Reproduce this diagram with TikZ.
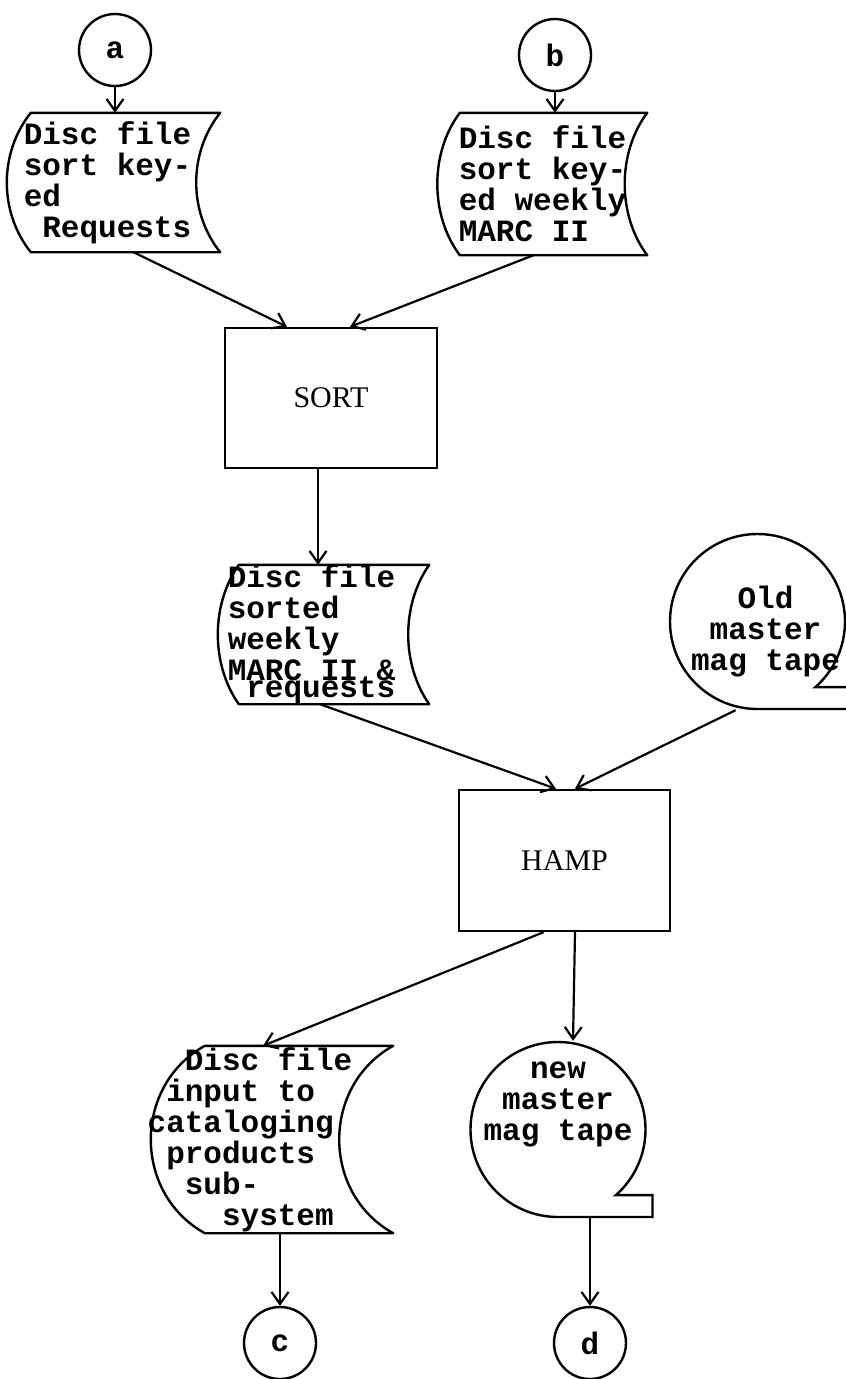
\documentclass[tikz,border=0pt]{standalone}
\usepackage{fontspec}
\setmainfont{Liberation Serif}
\setmonofont{Liberation Mono}
\usetikzlibrary{
    arrows.meta,
    shapes.symbols
}

% outline of a disc file symbol: straight top and bottom,
% left side bulging out, right side curving in
\newcommand{\discoutline}[2]{%
  \draw[outline] (#1.north west) .. controls +(-#2,40) and +(-#2,-40) .. (#1.south west)
    -- (#1.south east) .. controls +(-#2,-40) and +(-#2,40) .. (#1.north east) -- cycle;}

\begin{document}
\begin{tikzpicture}[
    x=1pt, y=-1pt,
    font=\ttfamily\bfseries\fontsize{31}{31}\selectfont,
    outline/.style={
        line width=2.4pt,
        line join=round
    },
    connector/.style={
        circle,
        draw,
        line width=2.4pt,
        minimum size=72pt,
        inner sep=0pt
    },
    discfile/.style={
        rectangle,
        inner sep=0pt
    },
    disctext/.style={
        align=left,
        inner sep=0pt
    },
    tape/.style={
        magnetic tape,
        draw,
        line width=2.4pt,
        minimum size=175pt,
        inner sep=0pt,
        magnetic tape tail extend=7pt,
        magnetic tape tail=0.25
    },
    tapetext/.style={
        align=center,
        inner sep=0pt
    },
    process/.style={
        rectangle,
        draw,
        line width=2.4pt,
        minimum width=212pt,
        minimum height=140pt,
        font=\rmfamily\mdseries\fontsize{30}{32}\selectfont
    },
    arrow/.style={
        -{Straight Barb[length=12pt,width=17pt]},
        line width=2.2pt
    }
]
\useasboundingbox (0,0) rectangle (846,1379);

% =========================================================
% Inputs: connectors a, b and the two sort keyed files
% =========================================================
\node[connector] (cirA) at (115,50) {a};
\node[connector] (cirB) at (555,55) {b};

\node[discfile, minimum width=189pt, minimum height=139pt,
    label={[disctext, xshift=-18pt]center:Disc file\\sort key-\\ed\\~Requests}
] (reqdisc) at (125.5,182.5) {};
\discoutline{reqdisc}{32}

\node[discfile, minimum width=187pt, minimum height=142pt,
    label={[disctext, xshift=-11pt]center:Disc file\\sort key-\\ed weekly\\MARC II}
] (marcdisc) at (553.5,184) {};
\discoutline{marcdisc}{30}

% =========================================================
% Middle: sort, then HAMP with the old master tape
% =========================================================
\node[process] (sort) at (331,398) {SORT};

\node[discfile, minimum width=190pt, minimum height=139pt,
    label={[disctext, xshift=-22.5pt]center:Disc file\\sorted\\weekly\\MARC~II~\&\\[-14pt]~requests}
] (sorteddisc) at (334,634.5) {};
\discoutline{sorteddisc}{28}

\node[tape,
    label={[tapetext, xshift=8pt, yshift=-10pt]center:Old\\master\\mag tape}
] (oldtape) at (757.5,621.5) {};

\node[process, minimum width=211pt, minimum height=141pt] (hamp) at (564.5,860.5) {HAMP};

% =========================================================
% Outputs: cataloging file, new master tape, connectors c, d
% =========================================================
\node[discfile, minimum width=188pt, minimum height=187pt,
    label={[disctext, xshift=-49pt]center:~~Disc file\\~input to\\cataloging\\~products\\~~sub-\\~~~~system}
] (catdisc) at (299,1139.5) {};
\discoutline{catdisc}{72}

\node[tape,
    label={[tapetext, yshift=25pt]center:new\\master\\mag tape}
] (newtape) at (558,1129.5) {};

\node[connector] (cirC) at (280,1343) {c};
\node[connector] (cirD) at (590,1343) {d};

% =========================================================
% Arrows
% =========================================================
\draw[arrow] (cirA) -- (cirA |- reqdisc.north);
\draw[arrow] (cirB) -- (cirB |- marcdisc.north);

\draw[arrow] ([xshift=8pt]reqdisc.south) -- ([xshift=-44pt]sort.north);
\draw[arrow] ([xshift=-20pt]marcdisc.south) -- ([xshift=19pt]sort.north);
\draw[arrow] ([xshift=-13pt]sort.south) -- ([xshift=-16pt]sorteddisc.north);

\draw[arrow] ([xshift=-14pt]sorteddisc.south) -- ([xshift=-8.5pt]hamp.north);
\draw[arrow] ([xshift=-22pt]oldtape.south) -- ([xshift=10.5pt]hamp.north);

\draw[arrow] ([xshift=-21pt]hamp.south) -- ([xshift=-36pt]catdisc.north);
\draw[arrow] ([xshift=10.5pt]hamp.south) -- ([xshift=15pt]newtape.north);

\draw[arrow] (catdisc.south -| cirC) -- (cirC);
\draw[arrow] (newtape.south -| cirD) -- (cirD);

\end{tikzpicture}
\end{document}
